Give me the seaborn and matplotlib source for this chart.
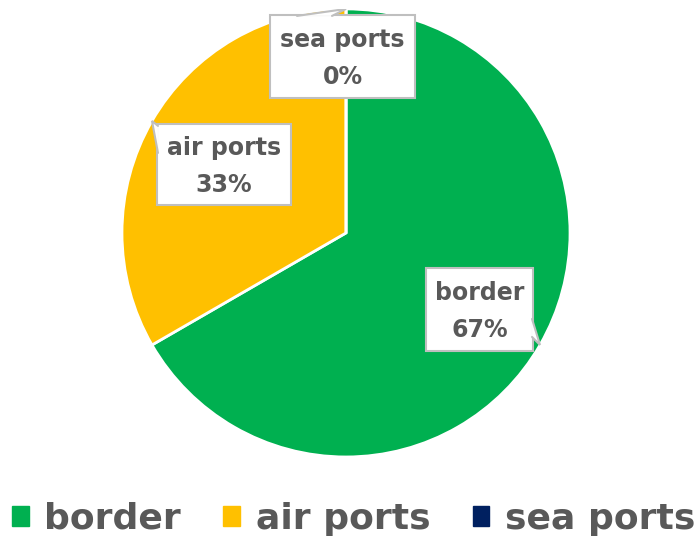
import matplotlib
matplotlib.use("Agg")
import matplotlib.pyplot as plt
import matplotlib.patches as mpatches
import numpy as np
import seaborn as sns

categories = ["border", "air ports", "sea ports"]
values = [2, 1, 0]
colors = ["#00B050", "#FFC000", "#002060"]

sns.set_theme(style="white")
plt.rcParams["font.family"] = ["DejaVu Sans"]
text_color = "#595959"
edge_color = "#BFBFBF"

fig = plt.figure(figsize=(6.99, 5.36), dpi=100)
ax = fig.add_axes([0.1745, 0.1474, 0.641, 0.836])

wedges, _ = ax.pie(values, colors=colors, startangle=90, counterclock=False,
                   wedgeprops=dict(edgecolor="white", linewidth=2))
ax.set_xlim(-1, 1)
ax.set_ylim(-1, 1)
ax.set_aspect("equal")
ax.axis("off")


def px(x, y):
    # pixel position in the picture -> pie data coords
    return ((x - 346) / 224, (233 - y) / 224)


# callout boxes: (left, top, right, bottom) in pixels, and pointer base points
boxes = [(426, 268, 533, 351), (157, 124, 291, 205), (270, 15, 415, 98)]
bases = [[(532, 319), (532, 337)], [(158, 126), (158, 153)], [(297, 16), (332, 16)]]

total = sum(values)
for w, cat, v, (l, t, r, b), base in zip(wedges, categories, values, boxes, bases):
    mid = np.deg2rad((w.theta1 + w.theta2) / 2)
    tip = (np.cos(mid), np.sin(mid))
    x0, y0 = px(l, b)
    x1, y1 = px(r, t)
    ax.add_patch(mpatches.Rectangle((x0, y0), x1 - x0, y1 - y0, fc="white",
                                    ec=edge_color, lw=1.5, zorder=5))
    p1, p2 = px(*base[0]), px(*base[1])
    ax.add_patch(mpatches.Polygon([p1, tip, p2], closed=True, fc="white",
                                  ec="none", zorder=6))
    ax.plot([p1[0], tip[0], p2[0]], [p1[1], tip[1], p2[1]], color=edge_color,
            lw=1.5, zorder=6, solid_joinstyle="miter")
    ax.text((x0 + x1) / 2, (y0 + y1) / 2 - 2 / 224, f"{cat}\n{v / total:.0%}",
            ha="center", va="center", fontsize=17, fontweight="bold",
            color=text_color, linespacing=1.65, zorder=7)

handles = [mpatches.Patch(color=c) for c in colors]
fig.legend(handles, categories, loc="lower center", ncol=3, frameon=False,
           bbox_to_anchor=(0.506, -0.06),
           prop=dict(weight="bold", size=26), labelcolor=text_color,
           handlelength=0.47, handleheight=0.47, handletextpad=0.42,
           columnspacing=1.17)

fig.savefig("out.png", dpi=100)
